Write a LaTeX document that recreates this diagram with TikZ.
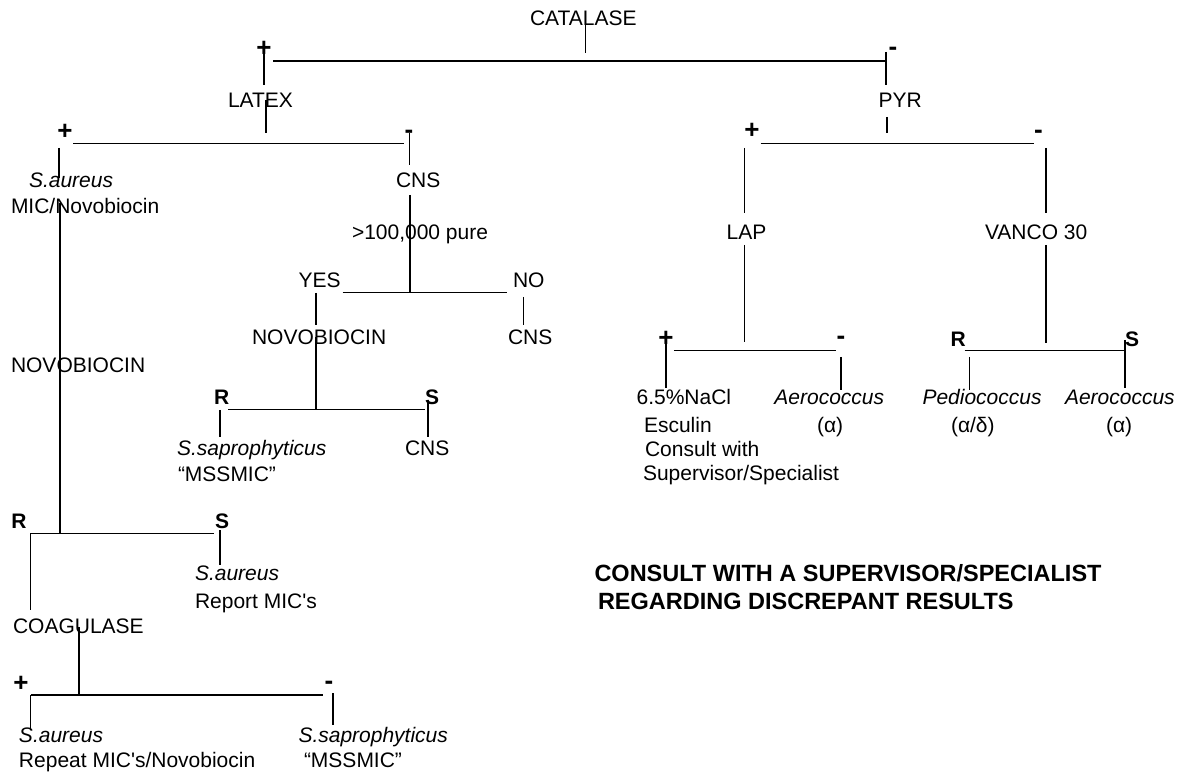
\documentclass[tikz,border=0pt]{standalone}
\usepackage{fontspec}
\setmainfont{Liberation Sans}
\begin{document}
\begin{tikzpicture}[x=1pt,y=-1pt,
  txt/.style={inner sep=0pt,outer sep=0pt,anchor=base west,font=\fontsize{21}{25}\selectfont},
  itx/.style={txt,font=\fontsize{21}{25}\selectfont\itshape},
  rs/.style={txt,font=\fontsize{21}{25}\selectfont\bfseries},
  sgn/.style={inner sep=0pt,outer sep=0pt,anchor=base,font=\fontsize{26}{30}\selectfont\bfseries},
  note/.style={txt,font=\fontsize{23.5}{28}\selectfont\bfseries},
  ln/.style={line width=1.3pt}]
\useasboundingbox (0,0) rectangle (1181,775);

% ---------- texts ----------
\node[txt] (catalase) at (530,26) {CATALASE};
\node[sgn] (catP) at (264,56.2) {+};
\node[sgn] (catM) at (893,55.6) {-};
\node[txt] (latex) at (228,108) {LATEX};
\node[txt] (pyr) at (878.5,108) {PYR};
\node[sgn] (latP) at (65,139.2) {+};
\node[sgn] (latM) at (409,138.6) {-};
\node[sgn] (pyrP) at (752,138.2) {+};
\node[sgn] (pyrM) at (1038.5,138.6) {-};

\node[itx] (saur1) at (29,188) {S.aureus};
\node[txt] (micnov) at (11,214) {MIC/Novobiocin};
\node[txt] (cns1) at (396,188) {CNS};
\node[txt] (pure) at (352,240) {>100,000 pure};
\node[txt] (yes) at (298.5,288) {YES};
\node[txt] (no) at (513,288) {NO};
\node[txt] (novo2) at (252,345) {NOVOBIOCIN};
\node[txt] (cns2) at (508,345) {CNS};
\node[txt] (novo1) at (11,373) {NOVOBIOCIN};
\node[rs] (r2) at (214,405) {R};
\node[rs] (s2) at (425,405) {S};
\node[itx] (sapro1) at (177,455) {S.saprophyticus};
\node[txt] (mss1) at (178,481) {“MSSMIC”};
\node[txt] (cns3) at (405,455) {CNS};
\node[rs] (r1) at (11.5,528) {R};
\node[rs] (s1) at (215,528) {S};
\node[itx] (saur2) at (195,580) {S.aureus};
\node[txt] (report) at (195,608) {Report MIC\textquotesingle s};
\node[txt] (coag) at (13,633) {COAGULASE};
\node[sgn] (coagP) at (21,691.2) {+};
\node[sgn] (coagM) at (329,689.6) {-};
\node[itx] (saur3) at (19,742) {S.aureus};
\node[txt] (repeat) at (19,767) {Repeat MIC\textquotesingle s/Novobiocin};
\node[itx] (sapro2) at (298.5,742) {S.saprophyticus};
\node[txt] (mss2) at (304,767) {“MSSMIC”};

\node[txt] (lap) at (726.6,240) {LAP};
\node[txt] (vanco) at (985,240) {VANCO 30};
\node[sgn] (lapP) at (666,346.2) {+};
\node[sgn] (lapM) at (841,344.6) {-};
\node[rs] (r3) at (950.5,346.7) {R};
\node[rs] (s3) at (1125,346.7) {S};
\node[txt] (nacl) at (636.6,405) {6.5\%NaCl};
\node[itx] (aero1) at (774.4,405) {Aerococcus};
\node[itx] (pedio) at (922.5,405) {Pediococcus};
\node[itx] (aero2) at (1065,405) {Aerococcus};
\node[txt] (esculin) at (644,432) {Esculin};
\node[txt] (al1) at (817,432) {(α)};
\node[txt] (al2) at (951,432) {(α/δ)};
\node[txt] (al3) at (1106,432) {(α)};
\node[txt] (consult) at (645,456.7) {Consult with};
\node[txt] (superv) at (643,480.7) {Supervisor/Specialist};

\node[note] (note1) at (594.5,581.7) {CONSULT WITH A SUPERVISOR/SPECIALIST};
\node[note] (note2) at (598,609) {REGARDING DISCREPANT RESULTS};

% ---------- junction coordinates ----------
\coordinate (ca1) at (585.5,24);   \coordinate (ca2) at (585.5,53);
\coordinate (ch1) at (273,61);     \coordinate (ch2) at (886,61);
\coordinate (cl1) at (264,42);     \coordinate (cl2) at (264,85);
\coordinate (cr1) at (886,52);     \coordinate (cr2) at (886,85);

\coordinate (la1) at (266,100);    \coordinate (la2) at (266,133);
\coordinate (lh1) at (73,143.3);   \coordinate (lh2) at (404,143.3);
\coordinate (ll1) at (59,148);     \coordinate (ll2) at (59,178);
\coordinate (lr1) at (409.5,133);  \coordinate (lr2) at (409.5,165);

\coordinate (pa1) at (887,117);    \coordinate (pa2) at (887,133);
\coordinate (ph1) at (760.6,143.3);\coordinate (ph2) at (1033.5,143.3);
\coordinate (pl1) at (744.6,148);  \coordinate (pl2) at (744.6,213);
\coordinate (pl3) at (744.6,245);  \coordinate (pl4) at (744.6,342);
\coordinate (pr1) at (1046,148);   \coordinate (pr2) at (1046,213);
\coordinate (pr3) at (1046,245);   \coordinate (pr4) at (1046,343);

\coordinate (lv1) at (60,203);     \coordinate (lv2) at (60,533.3);
\coordinate (cv1) at (410,195);    \coordinate (cv2) at (410,292.3);
\coordinate (yh1) at (342.5,292.3);\coordinate (yh2) at (507,292.3);
\coordinate (yv1) at (316,293);    \coordinate (yv2) at (316,325);
\coordinate (nv1) at (523.5,297);  \coordinate (nv2) at (523.5,325);
\coordinate (mv1) at (316,337);    \coordinate (mv2) at (316,409.3);
\coordinate (mh1) at (228,409.3);  \coordinate (mh2) at (425,409.3);
\coordinate (mr1) at (220,410);    \coordinate (mr2) at (220,437);
\coordinate (ms1) at (428,400);    \coordinate (ms2) at (428,437);

\coordinate (rh1) at (30,533.3);   \coordinate (rh2) at (214,533.3);
\coordinate (rr1) at (30.6,533.3); \coordinate (rr2) at (30.6,610);
\coordinate (rs1) at (220,530);    \coordinate (rs2) at (220,565);
\coordinate (gv1) at (79,627);     \coordinate (gv2) at (79,695);
\coordinate (gh1) at (30.6,695);   \coordinate (gh2) at (323,695);
\coordinate (gl2) at (30.6,730);
\coordinate (gm1) at (333,693);    \coordinate (gm2) at (333,725);

\coordinate (ah1) at (673.8,350.7);\coordinate (ah2) at (835.6,350.7);
\coordinate (ap1) at (666,332);    \coordinate (ap2) at (666,388);
\coordinate (am1) at (841,357);    \coordinate (am2) at (841,390);
\coordinate (vh1) at (964.6,350.7);\coordinate (vh2) at (1125,350.7);
\coordinate (vr1) at (969.6,357);  \coordinate (vr2) at (969.6,390);
\coordinate (vs1) at (1125,340);   \coordinate (vs2) at (1125,388);

% ---------- connectors ----------
\draw[ln] (ca1) -- (ca2);
\draw[ln] (ch1) -- (ch2);
\draw[ln] (cl1) -- (cl2);
\draw[ln] (cr1) -- (cr2);
\draw[ln] (la1) -- (la2);
\draw[ln] (lh1) -- (lh2);
\draw[ln] (ll1) -- (ll2);
\draw[ln] (lr1) -- (lr2);
\draw[ln] (pa1) -- (pa2);
\draw[ln] (ph1) -- (ph2);
\draw[ln] (pl1) -- (pl2);
\draw[ln] (pl3) -- (pl4);
\draw[ln] (pr1) -- (pr2);
\draw[ln] (pr3) -- (pr4);
\draw[ln] (lv1) -- (lv2);
\draw[ln] (cv1) -- (cv2);
\draw[ln] (yh1) -- (yh2);
\draw[ln] (yv1) -- (yv2);
\draw[ln] (nv1) -- (nv2);
\draw[ln] (mv1) -- (mv2);
\draw[ln] (mh1) -- (mh2);
\draw[ln] (mr1) -- (mr2);
\draw[ln] (ms1) -- (ms2);
\draw[ln] (rh1) -- (rh2);
\draw[ln] (rr1) -- (rr2);
\draw[ln] (rs1) -- (rs2);
\draw[ln] (gv1) -- (gv2);
\draw[ln] (gh1) -- (gh2);
\draw[ln] (gh1) -- (gl2);
\draw[ln] (gm1) -- (gm2);
\draw[ln] (ah1) -- (ah2);
\draw[ln] (ap1) -- (ap2);
\draw[ln] (am1) -- (am2);
\draw[ln] (vh1) -- (vh2);
\draw[ln] (vr1) -- (vr2);
\draw[ln] (vs1) -- (vs2);
\end{tikzpicture}
\end{document}
